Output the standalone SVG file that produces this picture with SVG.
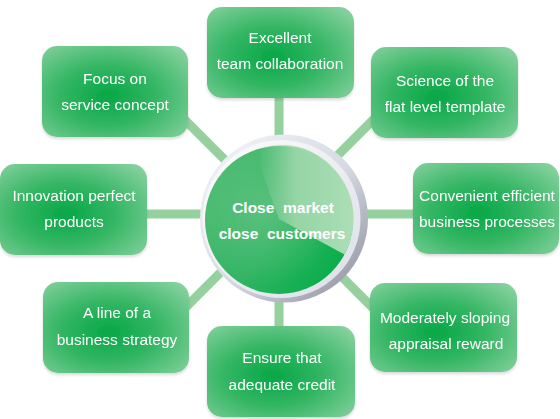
<svg xmlns="http://www.w3.org/2000/svg" width="560" height="419" viewBox="0 0 560 419">
  <defs>
    <radialGradient id="boxGrad" cx="0.45" cy="0.55" r="0.75">
      <stop offset="0" stop-color="#06a746"/>
      <stop offset="0.45" stop-color="#35b664"/>
      <stop offset="1" stop-color="#8dd3a3"/>
    </radialGradient>
    <linearGradient id="ringGrad" x1="0.15" y1="0.1" x2="0.9" y2="0.85">
      <stop offset="0" stop-color="#eef0f5"/>
      <stop offset="0.55" stop-color="#d6d9e2"/>
      <stop offset="1" stop-color="#9c9eab"/>
    </linearGradient>
    <linearGradient id="ringInner" x1="0.1" y1="0.1" x2="0.9" y2="0.9">
      <stop offset="0" stop-color="#fbfbfd"/>
      <stop offset="1" stop-color="#dfe1e9"/>
    </linearGradient>
    <linearGradient id="greenBase" x1="0" y1="0.2" x2="1" y2="0.9">
      <stop offset="0" stop-color="#4cbb71"/>
      <stop offset="0.5" stop-color="#2fb462"/>
      <stop offset="1" stop-color="#00ac45"/>
    </linearGradient>
    <linearGradient id="lightWedge" gradientUnits="userSpaceOnUse" x1="258" y1="0" x2="352" y2="0">
      <stop offset="0" stop-color="#9fd8ab" stop-opacity="0"/>
      <stop offset="0.4" stop-color="#9ad6a8" stop-opacity="0.95"/>
      <stop offset="1" stop-color="#acdeb6"/>
    </linearGradient>
    <radialGradient id="centerGlow" cx="0.4" cy="0.45" r="0.5">
      <stop offset="0" stop-color="#7ccb92" stop-opacity="0.5"/>
      <stop offset="1" stop-color="#7ccb92" stop-opacity="0"/>
    </radialGradient>
    <filter id="shadow" x="-10%" y="-10%" width="120%" height="130%">
      <feGaussianBlur in="SourceAlpha" stdDeviation="1.5"/>
      <feOffset dy="1.5"/>
      <feComponentTransfer><feFuncA type="linear" slope="0.15"/></feComponentTransfer>
      <feMerge><feMergeNode/><feMergeNode in="SourceGraphic"/></feMerge>
    </filter>
  </defs>
  <style>
    .box { fill: url(#boxGrad); }
    .lbl { font-family: "Liberation Sans", Arial, sans-serif; font-size: 15.5px; fill: #ffffff; text-anchor: middle; }
    .ctr { font-family: "Liberation Sans", Arial, sans-serif; font-size: 15.5px; font-weight: bold; fill: #ffffff; text-anchor: middle; white-space: pre; }
    .conn { stroke: #95d19e; stroke-width: 9; fill: none; }
  </style>
  <rect width="560" height="419" fill="#ffffff"/>

  <g id="connectors">
    <line class="conn" x1="279" y1="214" x2="279" y2="95"/>
    <line class="conn" x1="279" y1="214" x2="279" y2="330"/>
    <line class="conn" x1="279" y1="214" x2="145" y2="214"/>
    <line class="conn" x1="279" y1="214" x2="415" y2="214"/>
    <line class="conn" x1="279" y1="214" x2="170" y2="105"/>
    <line class="conn" x1="279" y1="214" x2="390" y2="103"/>
    <line class="conn" x1="279" y1="214" x2="170" y2="323"/>
    <line class="conn" x1="279" y1="214" x2="390" y2="325"/>
  </g>

  <g id="node-excellent" filter="url(#shadow)">
    <rect class="box" x="207" y="7" width="147" height="91" rx="15"/>
    <text class="lbl" x="280" y="43">Excellent</text>
    <text class="lbl" x="280" y="69">team collaboration</text>
  </g>
  <g id="node-focus" filter="url(#shadow)">
    <rect class="box" x="42" y="46" width="146" height="91" rx="15"/>
    <text class="lbl" x="115" y="84">Focus on</text>
    <text class="lbl" x="115" y="110">service concept</text>
  </g>
  <g id="node-science" filter="url(#shadow)">
    <rect class="box" x="371" y="47" width="147" height="91" rx="15"/>
    <text class="lbl" x="445" y="86">Science of the</text>
    <text class="lbl" x="445" y="112">flat level template</text>
  </g>
  <g id="node-innovation" filter="url(#shadow)">
    <rect class="box" x="0" y="164" width="147" height="91" rx="15"/>
    <text class="lbl" x="74" y="201">Innovation perfect</text>
    <text class="lbl" x="74" y="227">products</text>
  </g>
  <g id="node-convenient" filter="url(#shadow)">
    <rect class="box" x="413" y="163" width="146" height="91" rx="15"/>
    <text class="lbl" x="487" y="201">Convenient efficient</text>
    <text class="lbl" x="487" y="227">business processes</text>
  </g>
  <g id="node-line" filter="url(#shadow)">
    <rect class="box" x="43" y="282" width="146" height="91" rx="15"/>
    <text class="lbl" x="117" y="318">A line of a</text>
    <text class="lbl" x="117" y="345">business strategy</text>
  </g>
  <g id="node-moderately" filter="url(#shadow)">
    <rect class="box" x="370" y="283" width="147" height="89" rx="15"/>
    <text class="lbl" x="445" y="323">Moderately sloping</text>
    <text class="lbl" x="446" y="349">appraisal reward</text>
  </g>
  <g id="node-ensure" filter="url(#shadow)">
    <rect class="box" x="207" y="326" width="148" height="91" rx="15"/>
    <text class="lbl" x="282" y="363">Ensure that</text>
    <text class="lbl" x="282" y="390">adequate credit</text>
  </g>

  <g id="node-center">
    <circle cx="284" cy="218.5" r="84" fill="url(#ringGrad)"/>
    <circle cx="281.5" cy="219" r="79" fill="url(#ringInner)"/>
    <circle cx="279" cy="220" r="74" fill="url(#greenBase)"/>
    <circle cx="279" cy="220" r="74" fill="url(#centerGlow)"/>
    <path d="M279,219 L253.7,149.5 A74,74 0 0 1 344.5,254.4 Z" fill="url(#lightWedge)"/>
    <text class="ctr" x="283" y="213">Close  market</text>
    <text class="ctr" x="282" y="239">close  customers</text>
  </g>
</svg>
